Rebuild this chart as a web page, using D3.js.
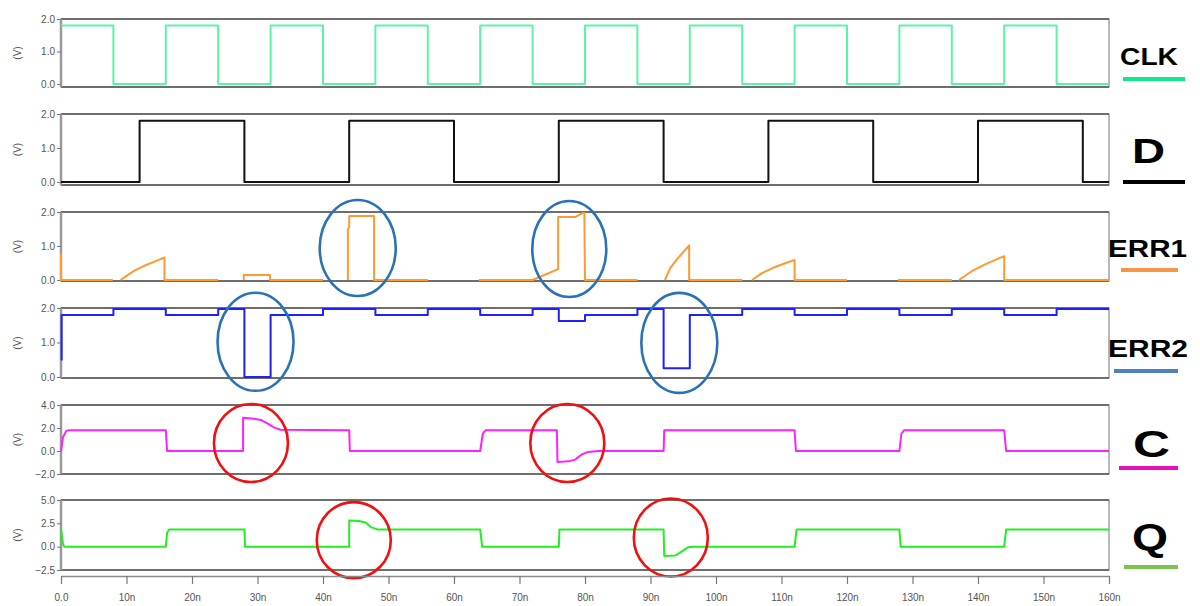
<!DOCTYPE html>
<html>
<head>
<meta charset="utf-8">
<script src="https://cdnjs.cloudflare.com/ajax/libs/d3/7.8.5/d3.min.js"></script>
<style>
  html, body { margin: 0; padding: 0; background: #fff; }
  svg { display: block; font-family: "Liberation Sans", Arial, sans-serif; }
</style>
</head>
<body>
<div id="chart"></div>
<script>
// time axis (ns)
const xTicks = [0, 10, 20, 30, 40, 50, 60, 70, 80, 90, 100, 110, 120, 130, 140, 150, 160];

// step signals: edge times (ns) and level after each edge (V)
const clkEdges  = [0, 8, 16, 24, 32, 40, 48, 56, 64, 72, 80, 88, 96, 104, 112, 120, 128, 136, 144, 152, 160];
const clkLevels = [1.8, 0, 1.8, 0, 1.8, 0, 1.8, 0, 1.8, 0, 1.8, 0, 1.8, 0, 1.8, 0, 1.8, 0, 1.8, 0, 0];

const dEdges  = [0, 12, 28, 44, 60, 76, 92, 108, 124, 140, 156, 160];
const dLevels = [0, 1.8, 0, 1.8, 0, 1.8, 0, 1.8, 0, 1.8, 0, 0];

const err2Edges  = [0, 0.1, 8, 16, 24, 28, 32, 40, 48, 56, 64, 72, 76, 80, 88, 92, 96, 104, 112, 120, 128, 136, 144, 152, 160];
const err2Levels = [0.5, 1.8, 1.97, 1.8, 1.97, 0, 1.8, 1.97, 1.8, 1.97, 1.8, 1.97, 1.62, 1.8, 1.97, 0.25, 1.8, 1.97, 1.8, 1.97, 1.8, 1.97, 1.8, 1.97, 1.97];

// sampled signals: [time ns, volts], null volts = trace not shown
const err1Points = [
  [0, 0.78], [0, 0], [7.9, 0], [8, null],
  [9.1, 0], [10, 0.12], [11, 0.25], [12, 0.35], [13, 0.44], [14, 0.52], [15, 0.6], [15.8, 0.66], [15.8, 0], [24, 0], [24, null],
  [27.9, 0], [27.9, 0.15], [31.9, 0.15], [31.9, 0], [40, 0], [40, null],
  [43.8, 0], [43.8, 1.5], [44, 1.55], [44, 1.88], [47.8, 1.88], [47.8, 0], [56, 0], [56, null],
  [63.8, 0], [72, 0], [75.9, 0.32], [75.9, 1.85], [78.5, 1.85], [79.6, 1.97], [79.9, 1.97], [80, 0], [88, 0], [88, null],
  [92.2, 0], [93, 0.35], [94, 0.6], [95, 0.82], [95.9, 1.02], [95.9, 0], [104, 0], [104, null],
  [105.5, 0], [107, 0.2], [109, 0.38], [111, 0.52], [112, 0.59], [112, 0], [120, 0], [120, null],
  [127.8, 0], [136, 0], [136, null],
  [137.1, 0], [139, 0.25], [141, 0.45], [143, 0.62], [144, 0.7], [144, 0], [160, 0]
];

const cPoints = [
  [0, 0], [0.3, 1.2], [0.8, 1.75], [1.2, 1.8], [16, 1.8], [16.2, 0], [27.8, 0], [27.8, 2.9],
  [29.5, 2.8], [30.5, 2.7], [31.5, 2.4], [32.5, 2.05], [33.5, 1.85], [44, 1.8], [44.1, 0],
  [64, 0], [64.4, 1.5], [64.8, 1.8], [75.7, 1.8], [75.8, -0.95], [77.5, -0.9], [78.5, -0.75],
  [79.5, -0.3], [80.5, -0.08], [82, 0], [92, 0], [92.1, 1.8], [112, 1.8], [112.2, 0],
  [128, 0], [128.3, 1.5], [128.7, 1.8], [144, 1.8], [144.3, 0], [160, 0]
];

const qPoints = [
  [0, 1.9], [0.3, 0.3], [0.5, 0], [16, 0], [16.2, 1.5], [16.5, 1.85], [28, 1.85], [28.1, 0],
  [44, 0], [44, 2.8], [45.5, 2.75], [46.5, 2.6], [47.3, 2.1], [48.3, 1.85], [64, 1.85], [64.3, 0],
  [76, 0], [76.1, 1.85], [92, 1.85], [92.1, -1.0], [93.8, -0.95], [94.8, -0.5], [95.8, -0.05],
  [96.5, 0], [112, 0], [112.3, 1.85], [128, 1.85], [128.2, 0], [144, 0], [144.3, 1.85], [160, 1.85]
];

const voltTicks  = [0, 1, 2];
const cTicks     = [-2, 0, 2, 4];
const qTicks     = [-2.5, 0, 2.5, 5];

const toSteps = (edges, levels) => edges.map((t, i) => [t, levels[i]]);

// panels (layout + style); lx/lw = label left edge and stretched width
const panels = [
  { name: "CLK",  data: toSteps(clkEdges, clkLevels),  step: true,  top: 19,  bottom: 87,  domain: [-0.09, 2], ticks: voltTicks,
    color: "#5ef2a6", mark: "#12e889", fs: 24, base: 65,  lx: 1120, lw: 58, ul: [1123, 1185, 79] },
  { name: "D",    data: toSteps(dEdges, dLevels),      step: true,  top: 114, bottom: 185, domain: [-0.09, 2], ticks: voltTicks,
    color: "#111111", mark: "#000000", fs: 35, base: 163, lx: 1132, lw: 33, ul: [1123, 1185, 182] },
  { name: "ERR1", data: err1Points,                   step: false, top: 212, bottom: 281, domain: [-0.03, 2], ticks: voltTicks,
    color: "#ff9a30", mark: "#f79646", fs: 24, base: 257, lx: 1108, lw: 79, ul: [1121, 1178, 270] },
  { name: "ERR2", data: toSteps(err2Edges, err2Levels), step: true, top: 308, bottom: 378, domain: [-0.03, 2], ticks: voltTicks,
    color: "#2020ff", mark: "#4f81bd", fs: 24, base: 357, lx: 1108, lw: 80, ul: [1114, 1178, 371] },
  { name: "C",    data: cPoints,                      step: false, top: 405, bottom: 474, domain: [-2, 4],     ticks: cTicks,
    color: "#ff22ff", mark: "#e810b8", fs: 37, base: 457, lx: 1133, lw: 37, ul: [1119, 1178, 468] },
  { name: "Q",    data: qPoints,                      step: false, top: 500, bottom: 570, domain: [-2.5, 5],   ticks: qTicks,
    color: "#22ee22", mark: "#7cc44c", fs: 37, base: 550, lx: 1132, lw: 36, ul: [1124, 1178, 567] }
];

// annotation marks, centred in data coords
const blueEllipses = [
  { panel: "ERR1", t: 45.3, v: 0.94, rx: 38, ry: 48 },
  { panel: "ERR1", t: 77.6, v: 0.91, rx: 37, ry: 48 },
  { panel: "ERR2", t: 29.7, v: 1.02, rx: 38, ry: 49 },
  { panel: "ERR2", t: 94.4, v: 0.99, rx: 38, ry: 50 }
];
const redCircles = [
  { panel: "C", t: 29.0, v: 0.7, rx: 37, ry: 39 },
  { panel: "C", t: 77.3, v: 0.7, rx: 37, ry: 39 },
  { panel: "Q", t: 44.7, v: 0.7, rx: 37, ry: 38 },
  { panel: "Q", t: 93.1, v: 0.98, rx: 37, ry: 39 }
];

const W = 1200, H = 606;
const left = 61, right = 1109;

const svg = d3.select("#chart").append("svg")
  .attr("width", W).attr("height", H);

const x = d3.scaleLinear().domain([0, 160]).range([left, right]);
const fmt = d3.format(".1f");

panels.forEach(p => {
  p.y = d3.scaleLinear().domain(p.domain).range([p.bottom, p.top]);
  const g = svg.append("g");

  // frame
  g.append("rect")
    .attr("x", left).attr("y", p.top)
    .attr("width", right - left).attr("height", p.bottom - p.top)
    .attr("fill", "none").attr("stroke", "#8a8a8a").attr("stroke-width", 1.2);
  g.append("line")
    .attr("x1", left).attr("x2", right).attr("y1", p.top).attr("y2", p.top)
    .attr("stroke", "#6e6e6e").attr("stroke-width", 1.8);
  g.append("line")
    .attr("x1", left).attr("x2", right).attr("y1", p.bottom).attr("y2", p.bottom)
    .attr("stroke", "#6e6e6e").attr("stroke-width", 1.8);

  // y axis
  const ax = g.append("g")
    .attr("transform", `translate(${left},0)`)
    .call(d3.axisLeft(p.y).tickValues(p.ticks).tickFormat(fmt).tickSize(4).tickSizeOuter(0));
  ax.select(".domain").attr("stroke", "#9a9a9a").attr("stroke-width", 2.5)
    .attr("d", `M0,${p.top}V${p.bottom}`);
  ax.selectAll(".tick line").attr("stroke", "#777");
  ax.selectAll(".tick text")
    .attr("fill", "#555").attr("font-size", 10).attr("x", -6)
    .attr("font-family", "'Liberation Sans', Arial, sans-serif");

  g.append("text")
    .attr("transform", `translate(17,${(p.top + p.bottom) / 2}) rotate(-90)`)
    .attr("text-anchor", "middle").attr("dy", "0.35em")
    .attr("font-size", 10).attr("fill", "#555")
    .text("(V)");

  // trace
  const line = d3.line()
    .defined(d => d[1] != null)
    .x(d => x(d[0])).y(d => p.y(d[1]))
    .curve(p.step ? d3.curveStepAfter : d3.curveLinear);
  g.append("path")
    .datum(p.data)
    .attr("fill", "none")
    .attr("stroke", p.color)
    .attr("stroke-width", 2)
    .attr("stroke-linejoin", "round")
    .attr("d", line);

  // right-hand label (the source image is stretched sideways)
  g.append("text")
    .attr("x", p.lx).attr("y", p.base)
    .attr("font-weight", "bold").attr("font-size", p.fs)
    .attr("fill", "#000")
    .attr("textLength", p.lw).attr("lengthAdjust", "spacingAndGlyphs")
    .text(p.name);
  g.append("line")
    .attr("x1", p.ul[0]).attr("x2", p.ul[1]).attr("y1", p.ul[2]).attr("y2", p.ul[2])
    .attr("stroke", p.mark).attr("stroke-width", 4);
});

const byName = Object.fromEntries(panels.map(p => [p.name, p]));

svg.append("g").selectAll("ellipse.blue")
  .data(blueEllipses).join("ellipse")
  .attr("cx", d => x(d.t)).attr("cy", d => byName[d.panel].y(d.v))
  .attr("rx", d => d.rx).attr("ry", d => d.ry)
  .attr("fill", "none").attr("stroke", "#2a72b5").attr("stroke-width", 2.6);

svg.append("g").selectAll("ellipse.red")
  .data(redCircles).join("ellipse")
  .attr("cx", d => x(d.t)).attr("cy", d => byName[d.panel].y(d.v))
  .attr("rx", d => d.rx).attr("ry", d => d.ry)
  .attr("fill", "none").attr("stroke", "#f01010").attr("stroke-width", 2.6);

// time axis
const xa = svg.append("g")
  .attr("transform", "translate(0,576)")
  .call(d3.axisBottom(x).tickValues(xTicks)
    .tickFormat(d => d === 0 ? "0.0" : d + "n")
    .tickSize(8).tickSizeOuter(0));
xa.select(".domain").attr("stroke", "#8a8a8a").attr("stroke-width", 1.5);
xa.selectAll(".tick line").attr("stroke", "#777").attr("stroke-width", 1.2);
xa.selectAll(".tick text")
  .attr("fill", "#555").attr("font-size", 10).attr("y", 18)
  .attr("font-family", "'Liberation Sans', Arial, sans-serif");
</script>
</body>
</html>
